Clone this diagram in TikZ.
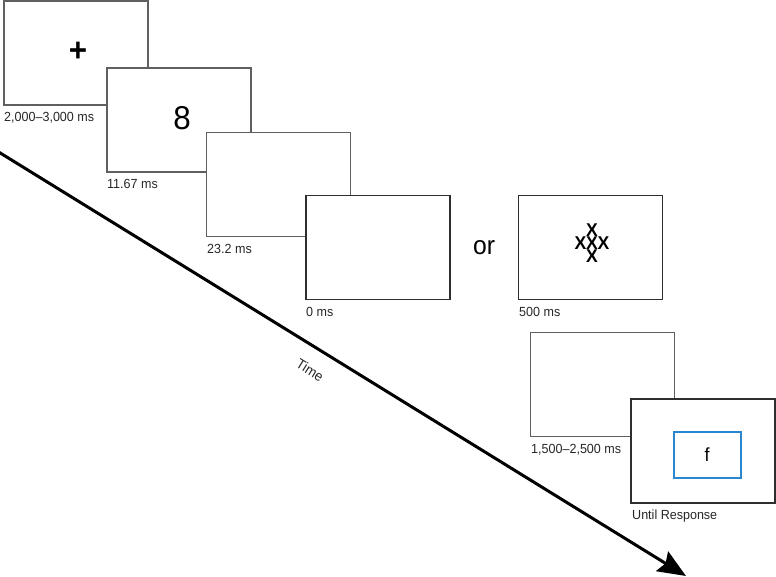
\documentclass[tikz,border=0pt]{standalone}
\usepackage{fontspec}
\setmainfont{Liberation Sans}[FakeStretch=0.95]
\usetikzlibrary{arrows.meta}
\definecolor{framegray}{HTML}{606060}
\definecolor{framedark}{HTML}{2E2E2E}
\definecolor{respblue}{HTML}{2B86D0}
\tikzset{
  screen/.style={draw=framegray, line width=1.7pt, fill=white, minimum width=144pt, minimum height=104pt, inner sep=0pt},
  screendark/.style={screen, draw=framedark},
  dur/.style={anchor=base west, inner sep=0pt, text=black!85, font=\fontsize{13.2pt}{15pt}\selectfont},
  stim/.style={inner sep=0pt},
  xlet/.style={inner sep=0pt, font=\fontsize{18.5pt}{21pt}\selectfont\bfseries},
  timeline/.style={line width=3pt, -{Stealth[length=28pt, width=23pt, inset=4pt]}}
}
\begin{document}
\begin{tikzpicture}[x=1pt,y=-1pt]
\useasboundingbox (0,0) rectangle (776,576);
% time arrow
\coordinate (tstart) at (-3,151);
\coordinate (tend) at (686,576);
\draw[timeline] (tstart) -- (tend);
\node[inner sep=0pt, rotate=-31.6, text=black!85, font=\fontsize{14pt}{16pt}\selectfont] (timelbl) at (310,370) {Time};
% screens
\node[screen] (s1) at (76,53) {};
\node[stim, font=\fontsize{33pt}{35pt}\selectfont\bfseries] (plus) at (78,52) {+};
\node[dur] (l1) at (4,121) {2,000–3,000 ms};

\node[screen] (s2) at (179,120) {};
\node[stim, font=\fontsize{33pt}{35pt}\selectfont] (eight) at (182,118) {8};
\node[dur] (l2) at (107,188) {11.67 ms};

\node[screen] (s3) at (278.5,184.5) {};
\node[dur] (l3) at (207,253) {23.2 ms};

\node[screendark] (s4) at (378,247.5) {};
\node[dur] (l4) at (306,316) {0 ms};

\node[stim, font=\fontsize{26pt}{28pt}\selectfont] (or) at (484,248) {or};

\node[screendark] (s5) at (590.5,247.5) {};
\node[xlet] (xt) at (592,230) {X};
\node[xlet] (xl) at (580.5,243) {X};
\node[xlet] (xc) at (592,243) {X};
\node[xlet] (xr) at (603.5,243) {X};
\node[xlet] (xb) at (592,256) {X};
\node[dur] (l5) at (519,316) {500 ms};

\node[screen] (s6) at (602.5,384.5) {};
\node[dur] (l6) at (531,453) {1,500–2,500 ms};

\node[screendark] (s7) at (703,451) {};
\node[draw=respblue, line width=1.5pt, minimum width=67pt, minimum height=46pt, inner sep=0pt] (resp) at (707.5,455) {};
\node[stim, font=\fontsize{19pt}{21pt}\selectfont] (f) at (707,455) {f};
\node[dur] (l7) at (632,519) {Until Response};
\end{tikzpicture}
\end{document}
